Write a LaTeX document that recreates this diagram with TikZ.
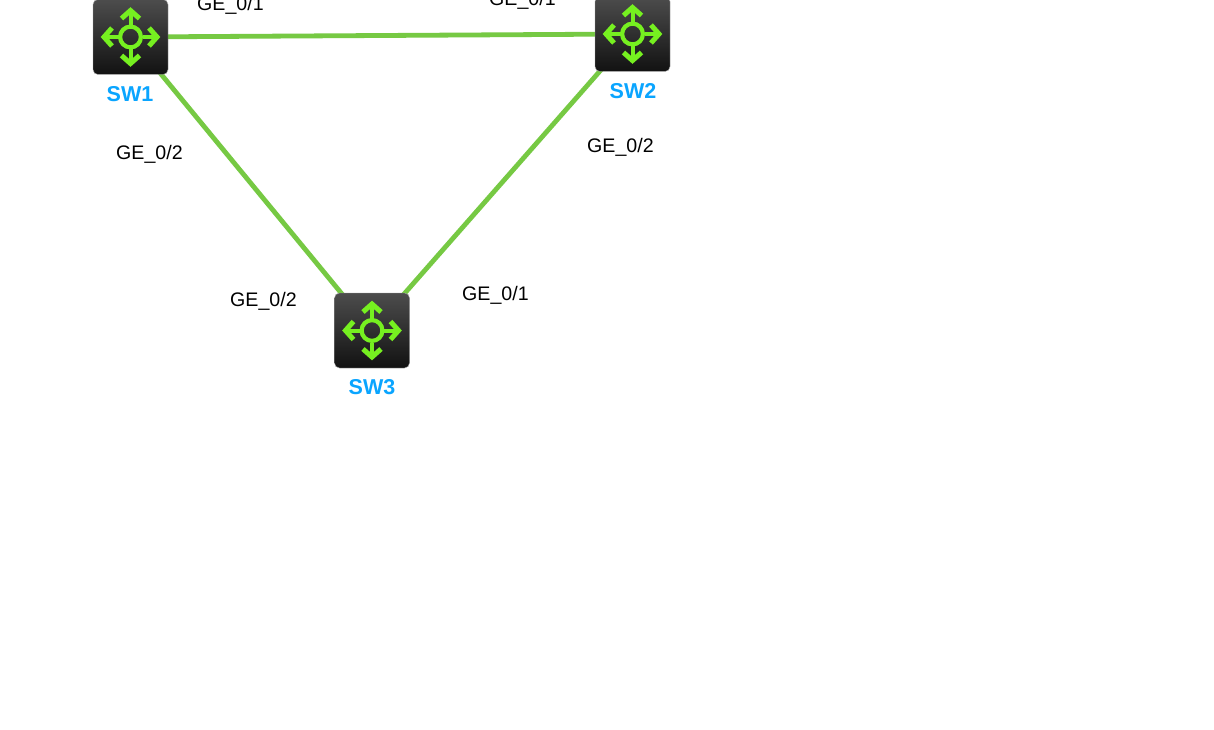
\documentclass[tikz,border=0pt]{standalone}
\usepackage{fontspec}
\setmainfont{Liberation Sans}
\usetikzlibrary{backgrounds}
\definecolor{linkgreen}{HTML}{76C943}
\definecolor{icongreen}{HTML}{76F020}
\definecolor{swblue}{HTML}{0AA5FF}
\tikzset{
  x=1pt,y=-1pt,
  swbox/.style={rectangle,rounded corners=5pt,minimum width=75pt,minimum height=75pt,inner sep=0pt,
    top color=black!70,bottom color=black!93,draw=black!35,line width=0.4pt},
  link/.style={draw=linkgreen,line width=4.8pt},
  iconline/.style={draw=icongreen,line width=4pt,line cap=butt,line join=miter},
  iconhead/.style={draw=icongreen,line width=5pt,line cap=butt,line join=miter},
  iconring/.style={draw=icongreen,line width=4.2pt},
  swlabel/.style={text=swblue,font=\fontsize{21.5}{24}\selectfont\bfseries,anchor=base,inner sep=0pt},
  portlabel/.style={text=black,font=\fontsize{19.6}{24}\selectfont,anchor=base west,inner sep=0pt},
  pics/swicon/.style={code={
    \draw[iconring] (0,0) circle (10.4);
    \foreach \r in {0,90,180,270}{
      \begin{scope}[rotate=\r]
        \draw[iconline] (12,0) -- (26,0);
        \draw[iconhead] (18.5,-9) -- (26.5,0) -- (18.5,9);
      \end{scope}}
  }}
}
\begin{document}
\begin{tikzpicture}
\useasboundingbox (0,0) rectangle (1214,730);
\node[swbox] (sw1) at (130.5,37) {};
\node[swbox] (sw2) at (632.5,34) {};
\node[swbox] (sw3) at (372,330.5) {};
\pic at (sw1.center) {swicon};
\pic at (sw2.center) {swicon};
\pic at (sw3.center) {swicon};
\begin{pgfonlayer}{background}
\fill[white] (0,0) rectangle (1214,730);
\draw[link] (sw1.center) -- (sw2.center);
\draw[link] (sw1.center) -- (sw3.center);
\draw[link] (sw2.center) -- (sw3.center);
\end{pgfonlayer}
\node[swlabel] (l1) at (130,101.5) {SW1};
\node[swlabel] (l2) at (633,98.5) {SW2};
\node[swlabel] (l3) at (372,394.5) {SW3};
\node[portlabel] (p1) at (197,11) {GE\_0/1};
\node[portlabel] (p2) at (489,6) {GE\_0/1};
\node[portlabel] (p3) at (116,160) {GE\_0/2};
\node[portlabel] (p4) at (587,153) {GE\_0/2};
\node[portlabel] (p5) at (230,306) {GE\_0/2};
\node[portlabel] (p6) at (462,300) {GE\_0/1};
\end{tikzpicture}
\end{document}
